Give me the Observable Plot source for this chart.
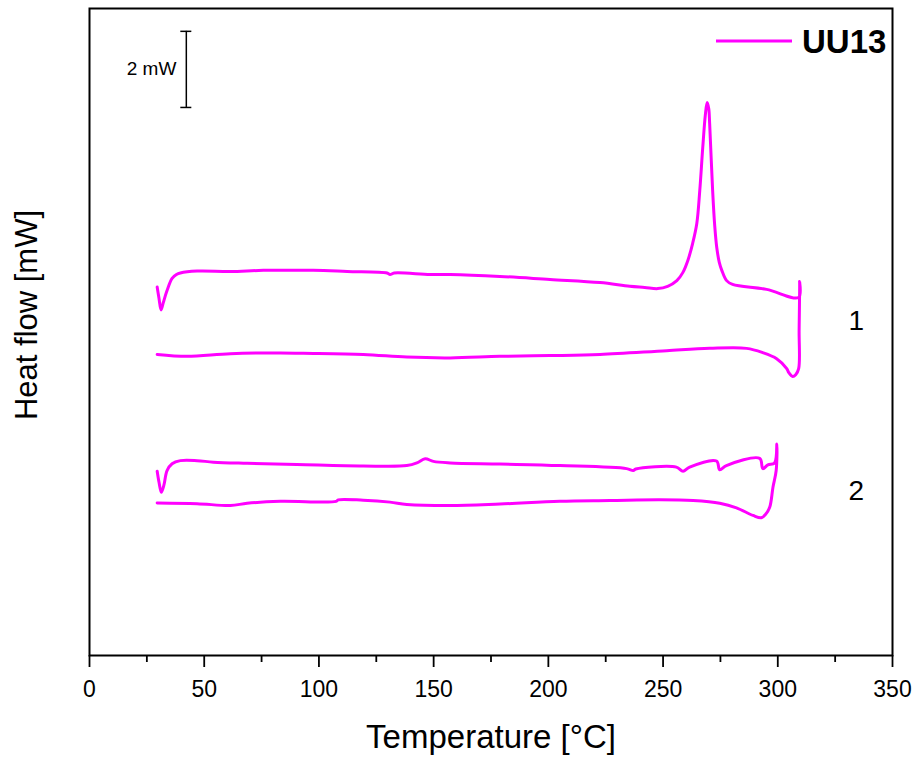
<!DOCTYPE html>
<html>
<head>
<meta charset="utf-8">
<script src="https://cdn.jsdelivr.net/npm/d3@7"></script>
<script src="https://cdn.jsdelivr.net/npm/@observablehq/plot@0.6"></script>
<style>
  body { margin: 0; background: #fff; }
  #chart { width: 921px; height: 760px; }
</style>
</head>
<body>
<div id="chart"></div>
<script>
// ---- data (temperature in °C, heat flow in mW, arbitrary offset) ----
const run1T = [29.5, 30.3, 31.2, 32.2, 33.8, 36.0, 37.9, 39.6, 46.9, 61.4, 75.8, 97.5, 112.3, 129.7, 131.0, 132.8, 148.4, 157.2, 178.9, 200.7, 222.5, 235.5, 242.0, 247.7, 252.0, 256.0, 258.6, 260.8, 262.9, 264.7, 266.0, 267.3, 268.4, 269.2, 269.9, 270.3, 271.6, 272.5, 273.4, 274.5, 275.6, 277.7, 280.3, 295.1, 309.1, 309.5,
  309.3, 309.1, 307.8, 306.5, 304.7, 303.9, 299.5, 293.4, 286.4, 270.3, 251.6, 222.5, 200.7, 178.9, 157.2, 138.3, 119.3, 93.2, 83.2, 61.4, 42.5, 29.5];
const run1Q = [9.68, 9.38, 9.08, 9.28, 9.59, 9.91, 10.01, 10.05, 10.10, 10.09, 10.12, 10.12, 10.09, 10.05, 10.01, 10.05, 10.01, 10.01, 9.96, 9.88, 9.80, 9.70, 9.67, 9.64, 9.70, 9.85, 10.06, 10.38, 10.83, 11.35, 12.22, 13.35, 14.19, 14.53, 14.37, 13.98, 12.22, 11.30, 10.72, 10.33, 10.12, 9.85, 9.75, 9.62, 9.41, 9.83,
  8.54, 7.54, 7.38, 7.33, 7.44, 7.54, 7.80, 7.96, 8.07, 8.07, 8.01, 7.91, 7.88, 7.86, 7.82, 7.84, 7.91, 7.94, 7.95, 7.93, 7.86, 7.91];

const run2T = [29.5, 30.3, 31.3, 32.4, 33.8, 36.0, 39.6, 46.9, 54.0, 68.7, 90.4, 119.3, 138.3, 142.7, 146.3, 149.9, 157.2, 178.9, 205.0, 234.1, 237.0, 238.1, 255.8, 258.7, 261.6, 273.3, 274.7, 277.6, 292.1, 293.5, 295.7, 298.6, 299.6,
  299.3, 297.9, 296.5, 294.7, 292.8, 289.2, 282.0, 274.7, 263.1, 248.6, 226.8, 205.0, 178.9, 157.2, 138.3, 131.0, 119.3, 108.4, 107.5, 83.2, 68.7, 61.4, 46.9, 29.5];
const run2Q = [4.84, 4.55, 4.29, 4.47, 4.86, 5.04, 5.12, 5.12, 5.08, 5.05, 5.02, 4.98, 4.99, 5.06, 5.17, 5.10, 5.06, 5.03, 4.99, 4.91, 4.86, 4.90, 4.95, 4.84, 4.95, 5.11, 4.88, 4.99, 5.18, 4.91, 5.01, 5.06, 5.56,
  4.86, 4.42, 3.90, 3.71, 3.62, 3.68, 3.88, 4.00, 4.07, 4.09, 4.07, 4.05, 3.98, 3.94, 3.97, 4.03, 4.08, 4.09, 4.05, 4.05, 4.00, 3.94, 3.99, 4.01];

const majorTicks = [0, 50, 100, 150, 200, 250, 300, 350];
const minorTicks = [25, 75, 125, 175, 225, 275, 325];

const curveLabels = ["1", "2"];
const labelT = [334.2, 334.2];
const labelQ = [8.80, 4.31];

const scaleBarT = 42.2;          // °C position of the 2 mW scale bar
const scaleBarQ = [14.4, 16.4];  // 2 mW span
const scaleBarText = "2 mW";
const seriesName = "UU13";

// ---- build table ----
const rows = [];
run1T.forEach((t, i) => rows.push({run: "1", T: t, Q: run1Q[i]}));
run2T.forEach((t, i) => rows.push({run: "2", T: t, Q: run2Q[i]}));

const font = "'Liberation Sans', Arial, Helvetica, sans-serif";
const magenta = "#ff00ff";

const plot = Plot.plot({
  width: 921,
  height: 760,
  marginLeft: 89,
  marginRight: 29,
  marginTop: 8,
  marginBottom: 105,
  style: {fontFamily: font, background: "#fff", color: "#000", overflow: "visible"},
  x: {domain: [0, 350], axis: null},
  y: {domain: [0, 17], axis: null},
  marks: [
    Plot.line(rows, {x: "T", y: "Q", z: "run", stroke: magenta, strokeWidth: 3, curve: "catmull-rom"}),
    Plot.axisX({ticks: majorTicks, tickSize: 12, tickPadding: 13, fontSize: 23, strokeWidth: 1.8, label: null, tickFormat: d => String(d)}),
    Plot.axisX({ticks: minorTicks, tickSize: 7, strokeWidth: 1.8, label: null, tickFormat: () => ""}),
    Plot.frame({strokeWidth: 2}),
    Plot.ruleX([scaleBarT], {y1: scaleBarQ[0], y2: scaleBarQ[1], stroke: "#000", strokeWidth: 1.5}),
    Plot.ruleY(scaleBarQ, {x1: scaleBarT - 2.4, x2: scaleBarT + 2.4, stroke: "#000", strokeWidth: 1.5}),
    Plot.text([scaleBarText], {x: scaleBarT, y: (scaleBarQ[0] + scaleBarQ[1]) / 2, dx: -10, textAnchor: "end", fontSize: 19, fill: "#000"}),
    Plot.text(curveLabels, {x: (d, i) => labelT[i], y: (d, i) => labelQ[i], fontSize: 28, fill: "#000"}),
    Plot.text(["Temperature [°C]"], {frameAnchor: "bottom", dy: 92, lineAnchor: "bottom", textAnchor: "middle", fontSize: 33, fill: "#000"}),
    Plot.text(["Heat flow [mW]"], {frameAnchor: "left", rotate: -90, dx: -62, dy: -17, textAnchor: "middle", lineAnchor: "middle", fontSize: 31, fill: "#000"})
  ]
});

// legend inside the frame, top right
const svg = d3.select(plot);
const lg = svg.append("g").attr("font-family", font);
lg.append("line").attr("x1", 716).attr("x2", 792).attr("y1", 41).attr("y2", 41)
  .attr("stroke", magenta).attr("stroke-width", 3);
lg.append("text").attr("x", 802).attr("y", 53).attr("font-size", 33).attr("font-weight", "bold")
  .attr("text-anchor", "start").attr("fill", "#000").text(seriesName);

document.getElementById("chart").append(plot);
</script>
</body>
</html>
